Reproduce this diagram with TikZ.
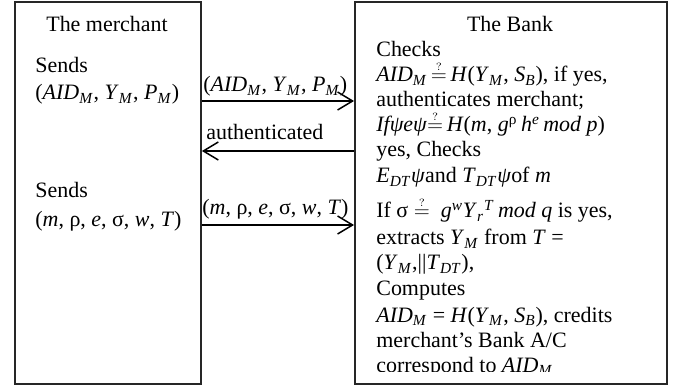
\documentclass[tikz,border=0pt]{standalone}
\usepackage{fontspec}
\setmainfont{Liberation Serif}
\usetikzlibrary{arrows.meta}
\newcommand{\iv}[1]{\textit{#1}}
\newcommand{\sbs}[1]{\textsubscript{\textit{#1}}}
\newcommand{\qeq}{$\stackrel{\scriptscriptstyle ?}{=}$}
\tikzset{
  panel/.style={draw=black!85, line width=1.1pt, anchor=north west, inner sep=0pt},
  txt/.style={anchor=base west, inner sep=0pt},
  msg/.style={line width=0.85pt, -{Straight Barb[length=3mm,width=3.6mm,line width=0.85pt]}},
  every node/.style={font=\fontsize{12.5}{15}\selectfont}
}
\begin{document}
\begin{tikzpicture}[x=0.02cm,y=-0.02cm]
    \useasboundingbox (0,0) rectangle (683,388);
    % The two parties
    \node[panel, minimum width=3.72cm, minimum height=7.64cm] (merchant) at (14,1) {};
    \node[panel, minimum width=6.24cm, minimum height=7.64cm] (bank) at (354,1) {};
    % Merchant side
    \node[anchor=base] (mtitle) at (107,32) {The merchant};
    \node[txt] (send1) at (35,73) {Sends};
    \node[txt] (tup1) at (35,100) {(\iv{AID}\sbs{M}, \iv{Y}\sbs{M}, \iv{P}\sbs{M})};
    \node[txt] (send2) at (35,198) {Sends};
    \node[txt] (tup2) at (35,227) {(\iv{m}, ρ, \iv{e}, σ, \iv{w}, \iv{T})};
    % Bank side
    \node[anchor=base] (btitle) at (510,32) {The Bank};
    \begin{scope}
        \clip (354,1) rectangle (667,371);
        \foreach \y/\t [count=\i] in {
            57/{Checks},
            82/{\iv{AID}\sbs{M}\,\qeq\,\iv{H}(\iv{Y}\sbs{M}, \iv{S}\sbs{B}), if yes,},
            107/{authenticates merchant;},
            132/{\iv{Ifψeψ}\qeq\,\iv{H}(\iv{m},\ \iv{g}\textsuperscript{ρ}\,\iv{h}\textsuperscript{\iv{e}}\,\iv{mod p})},
            157/{yes, Checks},
            183/{\iv{E}\sbs{DT}\iv{ψ}and \iv{T}\sbs{DT}\iv{ψ}of \iv{m}},
            218/{If σ \qeq\ \ \iv{g}\textsuperscript{\iv{w}}\iv{Y}\textsubscript{\iv{r}}\textsuperscript{\iv{T}}\,\iv{mod q} is yes,},
            245/{extracts \iv{Y}\sbs{M} from \iv{T} =},
            270/{(\iv{Y}\sbs{M},||\iv{T}\sbs{DT}),},
            296/{Computes},
            322/{\iv{AID}\sbs{M} = \iv{H}(\iv{Y}\sbs{M}, \iv{S}\sbs{B}), credits},
            347/{merchant’s Bank A/C},
            372/{correspond to \iv{AID}\sbs{M}}}
            \node[txt] (bline\i) at (376,\y) {\t};
    \end{scope}
    % Messages
    \coordinate (r1) at (0,101);
    \coordinate (r2) at (0,151);
    \coordinate (r3) at (0,225);
    \draw[msg] (merchant.east |- r1) -- (bank.west |- r1);
    \draw[msg] (bank.west |- r2) -- (merchant.east |- r2);
    \draw[msg] (merchant.east |- r3) -- (bank.west |- r3);
    \node[txt] (m1) at (203,92) {(\iv{AID}\sbs{M}, \iv{Y}\sbs{M}, \iv{P}\sbs{M})};
    \node[txt] (m2) at (206,140) {authenticated};
    \node[txt] (m3) at (202,215) {(\iv{m}, ρ, \iv{e}, σ, \iv{w}, \iv{T})};
\end{tikzpicture}
\end{document}
